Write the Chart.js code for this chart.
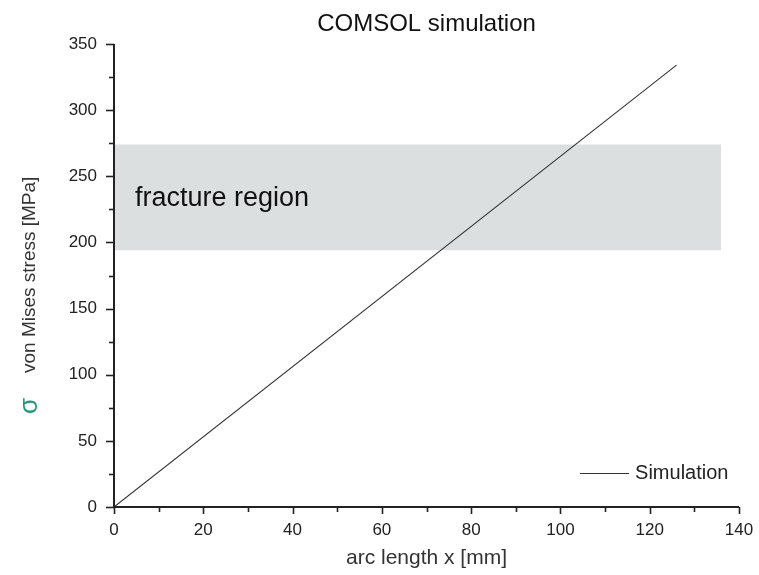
<!DOCTYPE html>
<html>
<head>
<meta charset="utf-8">
<script src="https://cdn.jsdelivr.net/npm/chart.js@4.4.1/dist/chart.umd.min.js"></script>
<style>
  html, body { margin: 0; padding: 0; background: #fff; }
  #wrap { width: 759px; height: 575px; }
</style>
</head>
<body>
<div id="wrap"><canvas id="chart" width="759" height="575"></canvas></div>
<script>
// simulation curve (arc length mm -> von Mises stress MPa)
const simX = [0, 126];
const simY = [0, 334];

// fracture region band
const fractureX = [0, 136];
const fractureLow = [194, 194];
const fractureHigh = [274, 274];

const xTicks = [0, 20, 40, 60, 80, 100, 120, 140];
const yTicks = [0, 50, 100, 150, 200, 250, 300, 350];

const FONT = "'Liberation Sans', Arial, sans-serif";
const INK = '#222';

function pts(xs, ys) {
    return xs.map((x, i) => ({ x: x, y: ys[i] }));
}

// axis lines + major/minor ticks, title, axis titles, legend, band label
const decorPlugin = {
    id: 'decor',
    afterDraw(chart) {
        const ctx = chart.ctx;
        const a = chart.chartArea;
        const xs = chart.scales.x, ys = chart.scales.y;
        ctx.save();
        ctx.strokeStyle = INK;
        ctx.lineWidth = 2;
        ctx.beginPath();
        ctx.moveTo(a.left, a.top);
        ctx.lineTo(a.left, a.bottom);
        ctx.lineTo(a.right, a.bottom);
        ctx.stroke();

        ctx.lineWidth = 1.6;
        xs.ticks.forEach(t => {
            const p = Math.round(xs.getPixelForValue(t.value)) + 0.5;
            const len = xTicks.includes(t.value) ? 7 : 5;
            ctx.beginPath();
            ctx.moveTo(p, a.bottom);
            ctx.lineTo(p, a.bottom + len);
            ctx.stroke();
        });
        ys.ticks.forEach(t => {
            const p = Math.round(ys.getPixelForValue(t.value)) + 0.5;
            const len = yTicks.includes(t.value) ? 8 : 5;
            ctx.beginPath();
            ctx.moveTo(a.left, p);
            ctx.lineTo(a.left - len, p);
            ctx.stroke();
        });

        // title
        ctx.fillStyle = '#111';
        ctx.font = '24px ' + FONT;
        ctx.textAlign = 'center';
        ctx.textBaseline = 'middle';
        ctx.fillText('COMSOL simulation', (a.left + a.right) / 2, 24);

        // x title
        ctx.fillStyle = '#333';
        ctx.font = '21px ' + FONT;
        ctx.fillText('arc length x [mm]', (a.left + a.right) / 2, 558);

        // y title, rotated, with green sigma
        ctx.save();
        ctx.translate(30, 0);
        ctx.rotate(-Math.PI / 2);
        ctx.textAlign = 'left';
        ctx.fillStyle = '#1d9a78';
        ctx.font = '26px ' + FONT;
        ctx.fillText('σ', -414, 0);
        ctx.fillStyle = '#333';
        ctx.font = '19px ' + FONT;
        ctx.fillText('von Mises stress [MPa]', -373, 0);
        ctx.restore();

        // band label
        ctx.fillStyle = '#111';
        ctx.font = '27px ' + FONT;
        ctx.textAlign = 'left';
        ctx.fillText('fracture region', xs.getPixelForValue(4.7), ys.getPixelForValue(233));

        // legend
        const sim = chart.data.datasets[0];
        const ly = Math.round(ys.getPixelForValue(26)) + 0.5;
        const lx = xs.getPixelForValue(104.4);
        ctx.strokeStyle = sim.borderColor;
        ctx.lineWidth = 1;
        ctx.beginPath();
        ctx.moveTo(lx, ly);
        ctx.lineTo(lx + 49, ly);
        ctx.stroke();
        ctx.fillStyle = INK;
        ctx.font = '20px ' + FONT;
        ctx.fillText(sim.label, lx + 55, ly);
        ctx.restore();
    }
};

new Chart(document.getElementById('chart'), {
    type: 'line',
    data: {
        datasets: [
            {
                label: 'Simulation',
                data: pts(simX, simY),
                borderColor: '#333',
                borderWidth: 1.1,
                pointRadius: 0,
                fill: false,
                order: 0
            },
            {
                label: 'fracture low',
                data: pts(fractureX, fractureLow),
                borderColor: 'transparent',
                borderWidth: 0,
                pointRadius: 0,
                fill: false,
                order: 2
            },
            {
                label: 'fracture high',
                data: pts(fractureX, fractureHigh),
                borderColor: 'transparent',
                backgroundColor: '#dcdfe0',
                borderWidth: 0,
                pointRadius: 0,
                fill: '-1',
                order: 1
            }
        ]
    },
    options: {
        responsive: false,
        animation: false,
        layout: { padding: { top: 44, right: 20, left: 0, bottom: 0 } },
        plugins: {
            legend: { display: false },
            title: { display: false },
            tooltip: { enabled: false }
        },
        scales: {
            x: {
                type: 'linear',
                min: 0,
                max: 140,
                grid: { display: false },
                border: { display: false },
                afterFit(scale) { scale.height = 68; },
                ticks: {
                    stepSize: 10,
                    autoSkip: false,
                    maxRotation: 0,
                    padding: 5,
                    color: INK,
                    font: { family: FONT, size: 17 },
                    callback: v => xTicks.includes(v) ? String(v) : ''
                }
            },
            y: {
                min: 0,
                max: 350,
                grid: { display: false },
                border: { display: false },
                afterFit(scale) { scale.width = 114; },
                ticks: {
                    stepSize: 25,
                    autoSkip: false,
                    padding: 9,
                    color: INK,
                    font: { family: FONT, size: 17 },
                    callback: v => yTicks.includes(v) ? String(v) : ''
                }
            }
        }
    },
    plugins: [decorPlugin]
});
</script>
</body>
</html>
